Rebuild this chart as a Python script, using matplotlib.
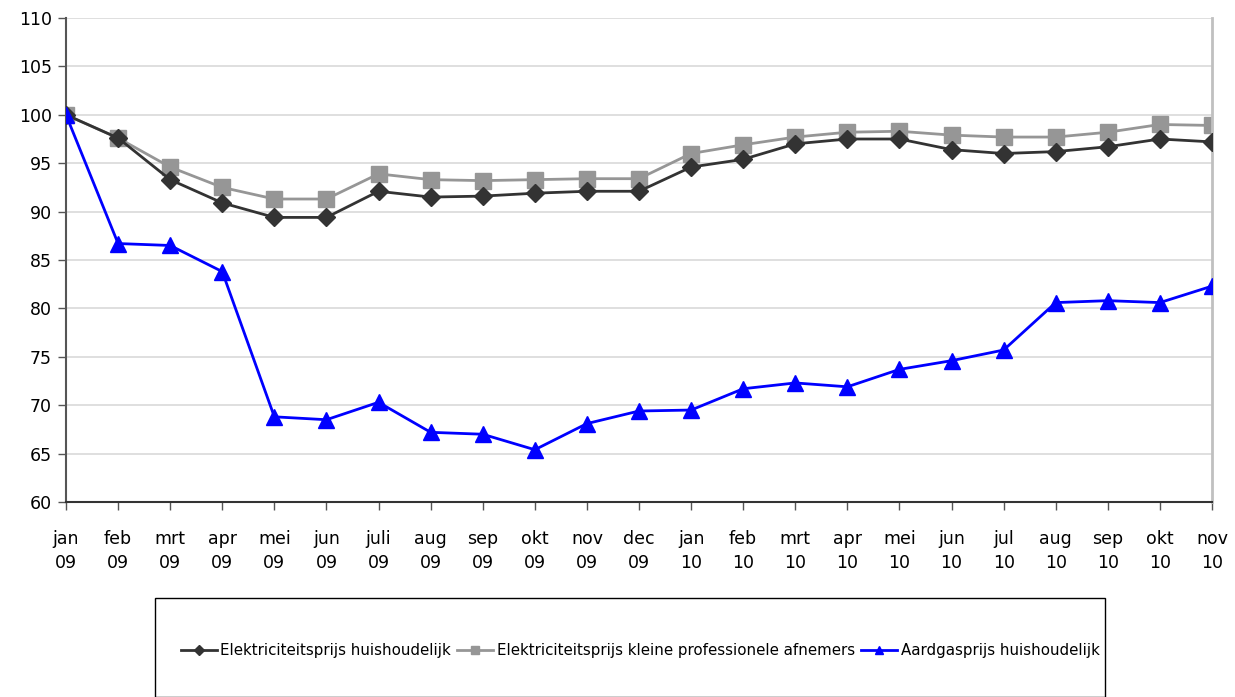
import matplotlib
matplotlib.use("Agg")
import matplotlib.pyplot as plt
from matplotlib.patches import Rectangle
from matplotlib.lines import Line2D

months = ["jan\n09", "feb\n09", "mrt\n09", "apr\n09", "mei\n09", "jun\n09", "juli\n09",
          "aug\n09", "sep\n09", "okt\n09", "nov\n09", "dec\n09", "jan\n10", "feb\n10",
          "mrt\n10", "apr\n10", "mei\n10", "jun\n10", "jul\n10", "aug\n10", "sep\n10",
          "okt\n10", "nov\n10"]

elek_huish = [100, 97.6, 93.3, 90.9, 89.4, 89.4, 92.1, 91.5, 91.6, 91.9, 92.1, 92.1,
              94.6, 95.4, 97.0, 97.5, 97.5, 96.4, 96.0, 96.2, 96.7, 97.5, 97.2]
elek_prof = [100, 97.6, 94.6, 92.5, 91.3, 91.3, 93.9, 93.3, 93.2, 93.3, 93.4, 93.4,
             96.0, 96.9, 97.7, 98.2, 98.3, 97.9, 97.7, 97.7, 98.2, 99.0, 98.9]
gas_huish = [100, 86.7, 86.5, 83.8, 68.8, 68.5, 70.3, 67.2, 67.0, 65.4, 68.1, 69.4,
             69.5, 71.7, 72.3, 71.9, 73.7, 74.6, 75.7, 80.6, 80.8, 80.6, 82.3]

labels = ["Elektriciteitsprijs huishoudelijk",
          "Elektriciteitsprijs kleine professionele afnemers",
          "Aardgasprijs huishoudelijk"]

W, H = 1235, 697
fig = plt.figure(figsize=(W / 100, H / 100), dpi=100)
ax = fig.add_axes([66 / W, 1 - 502 / H, (1212 - 66) / W, (502 - 18) / H])

x = list(range(len(months)))
ax.plot(x, elek_huish, color="#333333", lw=2, marker="D", ms=9, zorder=3)
ax.plot(x, elek_prof, color="#969696", lw=2, marker="s", ms=11.5, zorder=2)
ax.plot(x, gas_huish, color="#0000FF", lw=2, marker="^", ms=11, zorder=4)

ax.set_xlim(0, len(months) - 1)
ax.set_ylim(60, 110)
ax.set_yticks(range(60, 111, 5))
ax.set_xticks(x)
ax.set_xticklabels(months, fontsize=12.5, linespacing=1.45)
ax.tick_params(axis="y", labelsize=12.5, length=6, width=1, color="#555555", pad=4)
ax.tick_params(axis="x", length=6, width=1, color="#555555", pad=14)
ax.yaxis.grid(True, color="#d9d9d9", lw=1.2)
ax.set_axisbelow(True)
ax.spines["top"].set_visible(False)
ax.spines["left"].set_color("#555555")
ax.spines["left"].set_linewidth(1.5)
ax.spines["bottom"].set_color("#333333")
ax.spines["bottom"].set_linewidth(1.5)
ax.spines["right"].set_color("#c0c0c0")
ax.spines["right"].set_linewidth(2)

# legend box
fig.patches.append(Rectangle((155 / W, 0), (1105 - 155) / W, (697 - 598) / H,
                             transform=fig.transFigure, fill=False,
                             edgecolor="black", lw=1))
handles = [
    Line2D([], [], color="#333333", lw=2, marker="D", ms=5),
    Line2D([], [], color="#969696", lw=2, marker="s", ms=6),
    Line2D([], [], color="#0000FF", lw=2, marker="^", ms=6),
]
fig.legend(handles, labels, loc="center", bbox_to_anchor=(640 / W, 1 - 651 / H),
           ncol=3, frameon=False, fontsize=10.8, handlelength=2.4,
           handletextpad=0.25, columnspacing=0.4)

fig.savefig("out.png", dpi=100)
